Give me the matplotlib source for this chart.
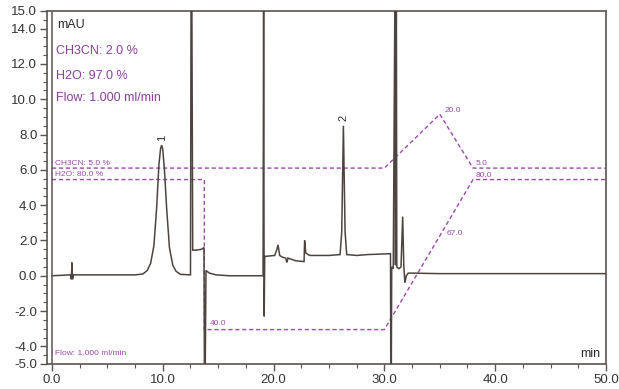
import matplotlib
matplotlib.use('Agg')
import matplotlib.pyplot as plt
from matplotlib.ticker import MultipleLocator, FixedLocator

plt.rcParams['font.family'] = ['Liberation Sans', 'DejaVu Sans']

# UV trace (time in min, signal in mAU)
trace_t = [0.0, 1.65, 1.75, 1.8, 1.85, 1.95, 2.1, 4.0, 7.5, 8.2, 8.6, 8.9, 9.2, 9.45, 9.65, 9.8, 9.9,
           10.0, 10.15, 10.35, 10.6, 10.9, 11.2, 11.6, 12.5, 12.55, 12.62, 12.7, 13.0, 13.5,
           13.72, 13.76, 13.82, 13.9, 14.2, 14.8, 16.0, 18.0, 19.05, 19.1, 19.15, 19.2, 19.25,
           19.3, 20.1, 20.3, 20.4, 20.55, 20.8, 21.1, 21.2, 21.3, 22.0, 22.75, 22.8, 22.9,
           23.1, 23.3, 25.0, 26.0, 26.15, 26.3, 26.45, 26.6, 27.5, 28.5, 30.55, 30.58, 30.62,
           30.66, 30.8, 30.95, 31.0, 31.08, 31.12, 31.3, 31.5, 31.65, 31.75, 31.85, 31.98,
           32.15, 32.4, 35.0, 40.0, 45.0, 50.0]
trace_y = [0.0, 0.05, -0.2, 0.75, -0.2, 0.05, 0.05, 0.05, 0.05, 0.1, 0.3, 0.7, 1.7, 3.9, 6.3, 7.2, 7.4,
           7.15, 6.0, 3.8, 1.6, 0.6, 0.25, 0.08, 0.05, 16.0, 16.0, 1.45, 1.45, 1.5,
           1.6, -6.0, -6.0, 0.3, 0.15, 0.05, 0.0, 0.0, 0.0, 16.0, -2.3, 1.1, 1.1,
           1.1, 1.15, 1.5, 1.75, 1.15, 1.05, 1.0, 0.75, 1.0, 0.85, 0.8, 2.0, 1.3,
           1.2, 1.15, 1.15, 1.2, 2.5, 8.5, 2.5, 1.2, 1.15, 1.2, 1.25, -6.0, -6.0,
           0.5, 0.4, 16.0, 0.6, 16.0, 0.5, 0.4, 0.5, 3.35, 0.6, -0.4, 0.0,
           0.15, 0.15, 0.12, 0.12, 0.12, 0.12]

# gradient program overlay (purple dashed)
ch3cn_t = [0.0, 30.0, 35.0, 38.0, 50.0]
ch3cn_y = [6.1, 6.1, 9.15, 6.1, 6.1]
h2o_t = [0.0, 13.75, 13.75, 30.0, 38.0, 50.0]
h2o_y = [5.45, 5.45, -3.05, -3.05, 5.45, 5.45]

peak_labels = ['1', '2']
peak_pos = [(9.9, 7.65), (26.3, 8.75)]

y_ticks = [-5.0, -4.0, -2.0, 0.0, 2.0, 4.0, 6.0, 8.0, 10.0, 12.0, 14.0, 15.0]
x_ticks = [0.0, 10.0, 20.0, 30.0, 40.0, 50.0]

trace_col = '#4d4440'
purple = '#9a4aa8'
text_purple = '#8a3f99'
frame_col = '#5c534e'

fig = plt.figure(figsize=(6.19, 3.89), dpi=100)
fig.patch.set_facecolor('white')
ax = fig.add_axes([47 / 619, 25 / 389, 559 / 619, 353 / 389])

ax.plot(trace_t, trace_y, color=trace_col, lw=1.1, solid_joinstyle='miter', zorder=3)
ax.plot(ch3cn_t, ch3cn_y, color=purple, lw=1.0, ls=(0, (3, 2)), zorder=2)
ax.plot(h2o_t, h2o_y, color=purple, lw=1.0, ls=(0, (3, 2)), zorder=2)
ax.axvline(0.0, color=frame_col, lw=1.1, zorder=4)

ax.set_xlim(-0.45, 50)
ax.set_ylim(-5, 15)

# text annotations
ax.text(0.5, 14.05, "mAU", color='#2a2a2a', fontsize=9)
ax.text(0.4, 12.55, "CH3CN: 2.0 %", color=text_purple, fontsize=9)
ax.text(0.4, 11.15, "H2O: 97.0 %", color=text_purple, fontsize=9)
ax.text(0.4, 9.9, "Flow: 1.000 ml/min", color=text_purple, fontsize=9)
ax.text(0.3, 6.25, "CH3CN: 5.0 %", color=purple, fontsize=6)
ax.text(0.3, 5.65, "H2O: 80.0 %", color=purple, fontsize=6)
ax.text(14.2, -2.8, "40.0", color=purple, fontsize=6)
ax.text(35.4, 9.25, "20.0", color=purple, fontsize=6)
ax.text(38.2, 6.3, "5.0", color=purple, fontsize=6)
ax.text(38.2, 5.6, "80.0", color=purple, fontsize=6)
ax.text(35.6, 2.3, "67.0", color=purple, fontsize=6)
ax.text(0.3, -4.5, "Flow: 1.000 ml/min", color=purple, fontsize=6)
ax.text(47.7, -4.6, "min", color='#2a2a2a', fontsize=9)

for lab, (px, py) in zip(peak_labels, peak_pos):
    ax.text(px, py, lab, color='#2a2a2a', fontsize=8, rotation=90, ha='center', va='bottom')

# axes styling
ax.yaxis.set_major_locator(FixedLocator(y_ticks))
ax.yaxis.set_minor_locator(MultipleLocator(0.5))
ax.xaxis.set_major_locator(FixedLocator(x_ticks))
ax.xaxis.set_minor_locator(FixedLocator([2.5 * i for i in range(21)]))
ax.set_yticklabels([f"{v:.1f}" for v in y_ticks])
ax.set_xticklabels([f"{v:.1f}" for v in x_ticks])
ax.tick_params(axis='both', which='major', length=5, width=1.0, color=frame_col,
               labelsize=9.5, labelcolor='#333333', pad=2)
ax.tick_params(axis='both', which='minor', length=3, width=0.8, color=frame_col)
for s in ax.spines.values():
    s.set_color(frame_col)
    s.set_linewidth(1.2)

plt.savefig('out.png', dpi=100, facecolor='white')
plt.close()
